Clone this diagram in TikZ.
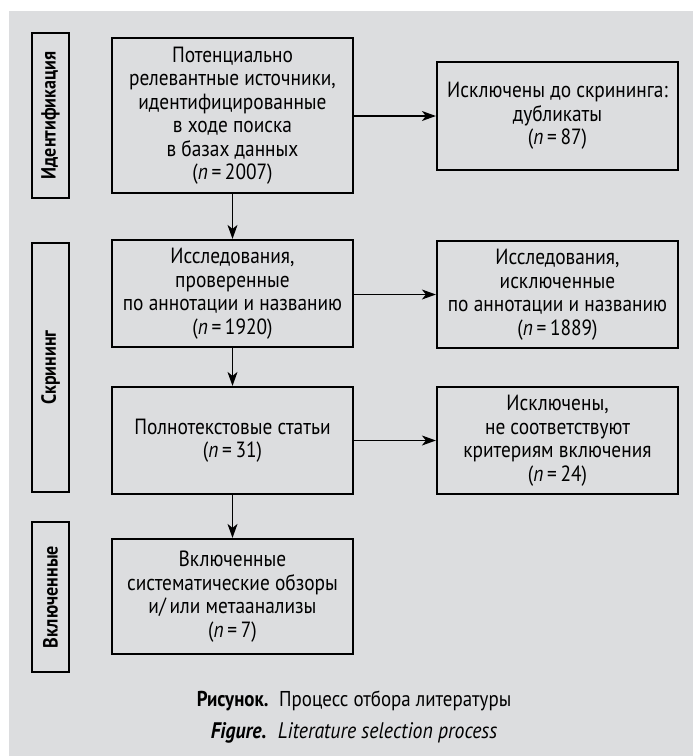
\documentclass[tikz,border=0pt]{standalone}
\usepackage{fontspec}
\setmainfont{PT Sans}[FakeStretch=0.88]
\usepackage{tikz}
\usetikzlibrary{arrows.meta}
\definecolor{bggray}{HTML}{DCDDDF}
\newcommand{\nn}[1]{(\textit{n}\,=\,#1)}

\begin{document}
\begin{tikzpicture}[x=1pt,y=-1pt,
    box/.style={rectangle,draw,line width=2.2pt,minimum width=241pt,
                align=center,inner sep=2pt,font=\fontsize{22}{23.5}\selectfont},
    stage/.style={rectangle,draw,line width=2.2pt,rotate=90,minimum height=37pt,
                  inner sep=0pt,font=\bfseries\fontsize{20.5}{22}\selectfont},
    arrow/.style={-{Stealth[length=14pt,width=10pt,inset=4pt]},line width=1.3pt}
]
\useasboundingbox (0,0) rectangle (693,756);
\fill[bggray] (9,11) rectangle (693,756);

% stages
\node[stage,minimum width=165pt] (ident)  at (50.5,115.5) {Идентификация};
\node[stage,minimum width=249pt] (screen) at (50.5,367.5) {Скрининг};
\node[stage,minimum width=150pt] (incl)   at (50.5,597)   {Включенные};

% main column
\node[box,minimum height=155pt] (found)  at (232.5,115.5) {Потенциально\\релевантные источники,\\идентифицированные\\в ходе поиска\\в базах данных\\\nn{2007}};
\node[box,minimum height=107pt] (titles) at (232.5,293.5) {Исследования,\\проверенные\\по аннотации и названию\\\nn{1920}};
\node[box,minimum height=107pt] (full)   at (232.5,440.5) {Полнотекстовые статьи\\\nn{31}};
\node[box,minimum height=115pt] (final)  at (232.5,596.5) {Включенные\\систематические обзоры\\и/\,или метаанализы\\\nn{7}};

% excluded column
\node[box,minimum height=108pt] (dupl)   at (557.5,116)   {Исключены до скрининга:\\дубликаты\\\nn{87}};
\node[box,minimum height=107pt] (exabs)  at (557.5,294.5) {Исследования,\\исключенные\\по аннотации и названию\\\nn{1889}};
\node[box,minimum height=107pt] (excrit) at (557.5,440.5) {Исключены,\\не соответствуют\\критериям включения\\\nn{24}};

\draw[arrow] (found) -- (titles);
\draw[arrow] (titles) -- (full);
\draw[arrow] (full) -- (final);
\draw[arrow] (found.east |- dupl.west) -- (dupl);
\draw[arrow] (titles.east |- exabs.west) -- (exabs);
\draw[arrow] (full) -- (excrit);

% caption
\node[font=\fontsize{21.5}{23}\selectfont] (capru) at (354,701) {\textbf{Рисунок.}\enspace Процесс отбора литературы};
\node[font=\itshape\fontsize{22.5}{24}\selectfont] (capen) at (354,733) {\textbf{Figure.}\enspace Literature selection process};
\end{tikzpicture}
\end{document}
